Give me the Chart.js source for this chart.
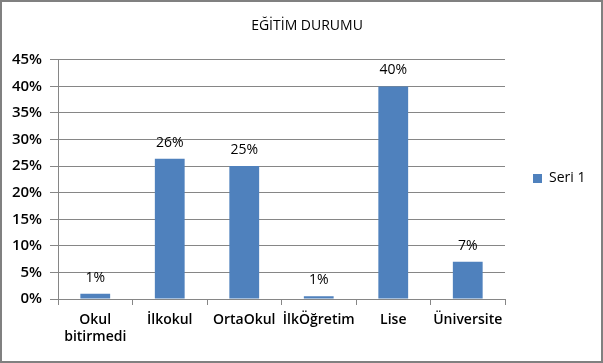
<!DOCTYPE html>
<html>
<head>
<meta charset="utf-8">
<script src="https://cdn.jsdelivr.net/npm/chart.js@4/dist/chart.umd.min.js"></script>
<style>
html,body{margin:0;padding:0;background:#fff;}
#wrap{width:603px;height:363px;position:relative;}
</style>
</head>
<body>
<div id="wrap"><canvas id="c" width="603" height="363"></canvas></div>
<script>
const categories = [["Okul","bitirmedi"], "İlkokul", "OrtaOkul", "İlkÖğretim", "Lise", "Üniversite"];
const seriesName = "Seri 1";
const values = [1.0, 26.4, 25.0, 0.5, 40.0, 7.0];
const valueLabels = ["1%", "26%", "25%", "1%", "40%", "7%"];
const yTicks = [0, 5, 10, 15, 20, 25, 30, 35, 40, 45];

const FONT = "'Open Sans', 'DejaVu Sans', sans-serif";
const GRID = '#868686';

const frame = {
  id: 'frame',
  afterInit(chart) {
    const lg = chart.legend;
    if (lg) {
      const orig = lg.fit.bind(lg);
      lg.fit = function () { orig(); this.width = 98; };
    }
  },
  beforeDraw(chart) {
    const ctx = chart.ctx;
    ctx.save();
    ctx.fillStyle = '#fff';
    ctx.fillRect(0, 0, chart.width, chart.height);
    ctx.restore();
  },
  afterDraw(chart) {
    const ctx = chart.ctx;
    ctx.save();
    ctx.strokeStyle = '#808080';
    ctx.lineWidth = 2;
    ctx.strokeRect(1, 1, chart.width - 2, chart.height - 2);
    ctx.restore();
  }
};

const dataLabels = {
  id: 'dataLabels',
  afterDatasetsDraw(chart) {
    const ctx = chart.ctx;
    const meta = chart.getDatasetMeta(0);
    ctx.save();
    ctx.font = "14px " + FONT;
    ctx.fillStyle = '#000';
    ctx.textAlign = 'center';
    ctx.textBaseline = 'middle';
    meta.data.forEach((bar, i) => {
      ctx.fillText(valueLabels[i], bar.x, bar.y - 16);
    });
    ctx.restore();
  }
};

new Chart(document.getElementById('c'), {
  type: 'bar',
  data: {
    labels: categories,
    datasets: [{
      label: seriesName,
      data: values,
      backgroundColor: '#4F81BD',
      borderWidth: 0,
      categoryPercentage: 1,
      barPercentage: 0.4
    }]
  },
  options: {
    responsive: false,
    animation: false,
    devicePixelRatio: 1,
    layout: { padding: { top: 0, left: 11, right: 0, bottom: 6 } },
    plugins: {
      title: {
        display: true,
        text: 'EĞİTİM DURUMU',
        color: '#000',
        font: { family: FONT, size: 14, weight: 'normal' },
        padding: { top: 18, bottom: 25 }
      },
      legend: {
        position: 'right',
        align: 'center',
        labels: {
          boxWidth: 9,
          boxHeight: 9,
          color: '#000',
          font: { family: FONT, size: 14 },
          padding: 28
        }
      },
      tooltip: { enabled: false }
    },
    scales: {
      y: {
        min: 0,
        max: 45,
        afterBuildTicks(scale) { scale.ticks = yTicks.map(v => ({ value: v })); },
        afterFit(scale) { scale.width = 47; },
        ticks: {
          callback: v => v + '%',
          color: '#000',
          font: { family: FONT, size: 15, weight: '600' },
          padding: 8
        },
        grid: { color: GRID, tickLength: 8, drawTicks: true },
        border: { color: GRID }
      },
      x: {
        afterFit(scale) { scale.height = 58; },
        ticks: {
          color: '#000',
          font: { family: FONT, size: 14, weight: '600' },
          padding: 7,
          maxRotation: 0,
          autoSkip: false
        },
        grid: { display: true, drawOnChartArea: false, color: GRID, tickLength: 6, offset: true },
        border: { color: GRID }
      }
    }
  },
  plugins: [frame, dataLabels]
});
</script>
</body>
</html>
